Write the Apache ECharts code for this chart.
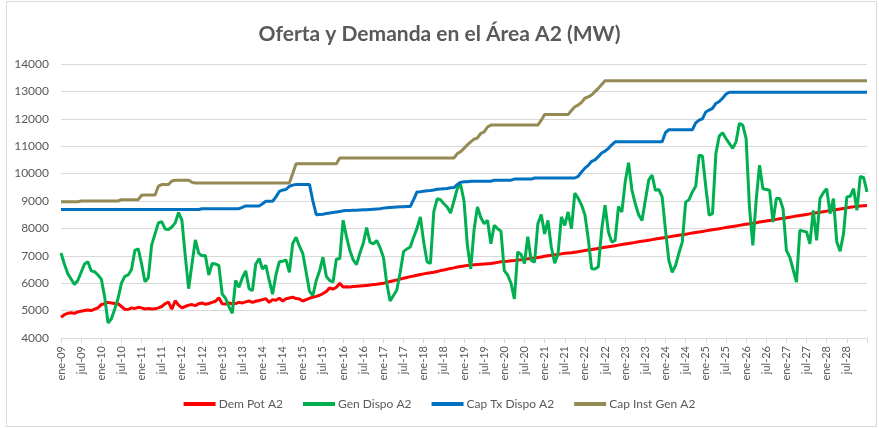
<!DOCTYPE html>
<html>
<head>
<meta charset="utf-8">
<script src="https://cdn.jsdelivr.net/npm/echarts@6/dist/echarts.min.js"></script>
<style>
  html, body { margin: 0; padding: 0; background: #fff; }
  #chart { width: 879px; height: 428px; }
</style>
</head>
<body>
<div id="chart"></div>
<script>
// eje X: meses ene-09 ... ene-29 (solo se rotulan ene/jul)
const meses = ["ene", "feb", "mar", "abr", "may", "jun", "jul", "ago", "sep", "oct", "nov", "dic"];
const categorias = [];
for (let a = 9; a <= 29; a++) {
  for (let m = 0; m < 12; m++) {
    if (categorias.length < 241) categorias.push(meses[m] + "-" + String(a).padStart(2, "0"));
  }
}
categorias[240] = ""; // Excel no rotula el último tick

const yTicks = [4000, 14000, 1000]; // min, max, intervalo

// Dem Pot A2
const demPot = [
  4760, 4850, 4900, 4920, 4900, 4950, 4980, 5000, 5020, 5000, 5050, 5100,
  5220, 5250, 5300, 5280, 5260, 5250, 5150, 5050, 5040, 5100, 5080, 5120,
  5100, 5060, 5080, 5060, 5070, 5100, 5150, 5250, 5310, 5050, 5360, 5200,
  5100, 5150, 5200, 5220, 5180, 5250, 5280, 5230, 5260, 5300, 5340, 5470,
  5250, 5240, 5280, 5250, 5260, 5300, 5280, 5320, 5350, 5300, 5340, 5370,
  5400, 5430, 5300, 5400, 5380, 5450, 5350, 5430, 5460, 5490, 5440, 5420,
  5350, 5400, 5450, 5490, 5520, 5560, 5620, 5700, 5830, 5780, 5850, 6000,
  5860, 5870, 5860, 5880, 5890, 5900, 5910, 5920, 5930, 5950, 5960, 5980,
  6000, 6030, 6060, 6090, 6120, 6150, 6180, 6210, 6240, 6260, 6290, 6320,
  6340, 6360, 6380, 6400, 6430, 6460, 6480, 6510, 6540, 6560, 6590, 6610,
  6630, 6650, 6660, 6670, 6680, 6690, 6700, 6710, 6720, 6740, 6760, 6780,
  6790, 6800, 6820, 6830, 6850, 6860, 6880, 6890, 6910, 6920, 6940, 6960,
  6980, 7000, 7020, 7040, 7050, 7070, 7090, 7100, 7110, 7130, 7150, 7170,
  7190, 7210, 7230, 7250, 7270, 7290, 7310, 7330, 7350, 7370, 7390, 7410,
  7430, 7450, 7470, 7490, 7510, 7530, 7550, 7570, 7590, 7610, 7630, 7650,
  7670, 7690, 7710, 7730, 7750, 7770, 7790, 7810, 7830, 7850, 7870, 7890,
  7910, 7930, 7950, 7970, 7990, 8010, 8030, 8050, 8070, 8090, 8110, 8130,
  8150, 8170, 8190, 8210, 8230, 8250, 8270, 8290, 8310, 8330, 8350, 8370,
  8390, 8410, 8430, 8450, 8470, 8490, 8510, 8530, 8550, 8570, 8590, 8610,
  8630, 8650, 8670, 8690, 8710, 8730, 8750, 8770, 8790, 8800, 8820, 8830,
  8840
];

// Gen Dispo A2
const genDispo = [
  7100, 6700, 6350, 6150, 5950, 6100, 6400, 6700, 6780, 6450, 6420, 6300,
  6150, 5500, 4550, 4700, 5050, 5450, 6000, 6250, 6300, 6500, 7200, 7250,
  6700, 6050, 6200, 7400, 7800, 8200, 8250, 7980, 7960, 8050, 8200, 8580,
  8300, 7000, 5800, 6700, 7580, 7100, 7000, 7010, 6300, 6720, 6700, 6650,
  5600, 5450, 5150, 4900, 6100, 5850, 6200, 6450, 5800, 5730, 6700, 6900,
  6520, 6650, 6100, 5600, 6300, 6780, 6800, 6850, 6400, 7450, 7680, 7350,
  7080, 6400, 5700, 5550, 6100, 6450, 6950, 6250, 6100, 6040, 6880, 6890,
  8300, 7700, 7200, 6850, 6680, 7100, 7450, 8030, 7500, 7430, 7560, 7300,
  6950, 6000, 5350, 5550, 5750, 6400, 7150, 7250, 7320, 7680, 8000, 8420,
  7500, 6780, 6720, 8600, 9080, 9050, 8900, 8780, 8560, 9000, 9450, 9600,
  9000, 7400, 6520, 7950, 8780, 8400, 8170, 8300, 7440, 8110, 7990, 7900,
  6460, 6300, 6000, 5430, 7140, 7050, 6720, 7700, 6830, 6770, 8170, 8510,
  7800, 8290, 7320, 6730, 7070, 8420, 8110, 8600, 7990, 9290, 9100, 8850,
  8500, 7620, 6530, 6520, 6600, 7950, 8850, 7870, 7500, 7560, 8800, 8600,
  9700, 10400, 9400, 8900, 8500, 8290, 9030, 9760, 9950, 9390, 9420, 9150,
  7930, 6830, 6400, 6650, 7100, 7500, 8960, 9050, 9330, 9540, 10670, 10640,
  9510, 8480, 8540, 10730, 11370, 11490, 11280, 11100, 10920, 11160, 11830, 11770,
  11280, 8780, 7380, 9030, 10310, 9450, 9420, 9390, 8230, 9090, 9090, 8720,
  7200, 6950, 6500, 6040, 7930, 7900, 7870, 7440, 8660, 7560, 9090, 9300,
  9450, 8540, 9090, 7500, 7170, 7800, 9150, 9170, 9450, 8660, 9900, 9850,
  9330
];

// Cap Tx Dispo A2
const capTx = [
  8690, 8690, 8690, 8690, 8690, 8690, 8690, 8690, 8690, 8690, 8690, 8690,
  8690, 8690, 8690, 8690, 8690, 8690, 8690, 8690, 8690, 8690, 8690, 8690,
  8690, 8690, 8690, 8690, 8690, 8690, 8690, 8690, 8690, 8690, 8690, 8690,
  8690, 8690, 8690, 8690, 8690, 8690, 8720, 8720, 8720, 8720, 8720, 8720,
  8720, 8720, 8720, 8720, 8720, 8720, 8770, 8820, 8820, 8820, 8820, 8820,
  8900, 8990, 8990, 8990, 9150, 9350, 9400, 9420, 9540, 9580, 9600, 9600,
  9600, 9600, 9600, 9000, 8500, 8510, 8520, 8540, 8560, 8580, 8600, 8620,
  8640, 8650, 8650, 8660, 8660, 8670, 8680, 8680, 8690, 8700, 8710, 8720,
  8740, 8750, 8760, 8770, 8780, 8790, 8790, 8800, 8800, 9050, 9330, 9340,
  9360, 9370, 9380, 9400, 9430, 9440, 9450, 9460, 9480, 9490, 9600, 9680,
  9700, 9700, 9720, 9720, 9720, 9720, 9720, 9720, 9720, 9760, 9760, 9760,
  9760, 9760, 9760, 9800, 9800, 9800, 9800, 9800, 9800, 9840, 9840, 9840,
  9840, 9840, 9840, 9840, 9840, 9840, 9840, 9840, 9840, 9840, 9900, 10060,
  10200, 10300, 10450, 10500, 10620, 10750, 10820, 10920, 11050, 11160, 11160, 11160,
  11160, 11160, 11160, 11160, 11160, 11160, 11160, 11160, 11160, 11160, 11160, 11160,
  11500, 11600, 11600, 11600, 11600, 11600, 11600, 11600, 11600, 11850, 11950, 12000,
  12250, 12320, 12380, 12560, 12630, 12750, 12900, 12970, 12970, 12970, 12970, 12970,
  12970, 12970, 12970, 12970, 12970, 12970, 12970, 12970, 12970, 12970, 12970, 12970,
  12970, 12970, 12970, 12970, 12970, 12970, 12970, 12970, 12970, 12970, 12970, 12970,
  12970, 12970, 12970, 12970, 12970, 12970, 12970, 12970, 12970, 12970, 12970, 12970,
  12970
];

// Cap Inst Gen A2
const capInst = [
  8970, 8970, 8970, 8970, 8970, 8970, 9000, 9000, 9000, 9000, 9000, 9000,
  9000, 9000, 9000, 9000, 9000, 9000, 9050, 9050, 9050, 9050, 9050, 9050,
  9210, 9220, 9220, 9220, 9220, 9540, 9600, 9600, 9600, 9730, 9760, 9760,
  9760, 9760, 9760, 9680, 9660, 9660, 9660, 9660, 9660, 9660, 9660, 9660,
  9660, 9660, 9660, 9660, 9660, 9660, 9660, 9660, 9660, 9660, 9660, 9660,
  9660, 9660, 9660, 9660, 9660, 9660, 9660, 9660, 9660, 10000, 10360, 10360,
  10360, 10360, 10360, 10360, 10360, 10360, 10360, 10360, 10360, 10360, 10360, 10570,
  10570, 10570, 10570, 10570, 10570, 10570, 10570, 10570, 10570, 10570, 10570, 10570,
  10570, 10570, 10570, 10570, 10570, 10570, 10570, 10570, 10570, 10570, 10570, 10570,
  10570, 10570, 10570, 10570, 10570, 10570, 10570, 10570, 10570, 10570, 10730, 10800,
  10920, 11050, 11160, 11260, 11300, 11470, 11520, 11700, 11770, 11770, 11770, 11770,
  11770, 11770, 11770, 11770, 11770, 11770, 11770, 11770, 11770, 11770, 11770, 11950,
  12160, 12160, 12160, 12160, 12160, 12160, 12160, 12160, 12300, 12440, 12500, 12600,
  12750, 12800, 12870, 12990, 13110, 13250, 13390, 13390, 13390, 13390, 13390, 13390,
  13390, 13390, 13390, 13390, 13390, 13390, 13390, 13390, 13390, 13390, 13390, 13390,
  13390, 13390, 13390, 13390, 13390, 13390, 13390, 13390, 13390, 13390, 13390, 13390,
  13390, 13390, 13390, 13390, 13390, 13390, 13390, 13390, 13390, 13390, 13390, 13390,
  13390, 13390, 13390, 13390, 13390, 13390, 13390, 13390, 13390, 13390, 13390, 13390,
  13390, 13390, 13390, 13390, 13390, 13390, 13390, 13390, 13390, 13390, 13390, 13390,
  13390, 13390, 13390, 13390, 13390, 13390, 13390, 13390, 13390, 13390, 13390, 13390,
  13390
];

const nombres = ["Dem Pot A2", "Gen Dispo A2", "Cap Tx Dispo A2", "Cap Inst Gen A2"];
const colores = ["#ff0000", "#00b050", "#0070c0", "#948a54"];
const datos = [demPot, genDispo, capTx, capInst];

const fuente = "Lato, 'Noto Sans', sans-serif";
const gris = "#595959";

const chart = echarts.init(document.getElementById("chart"));

const option = {
  animation: false,
  color: colores,
  textStyle: { fontFamily: fuente },
  title: {
    text: "Oferta y Demanda en el Área A2 (MW)",
    left: "center",
    top: 19,
    textStyle: { fontFamily: fuente, fontSize: 21, fontWeight: "bold", color: gris },
  },
  legend: {
    data: nombres,
    bottom: 13,
    left: "center",
    icon: "rect",
    itemWidth: 32,
    itemHeight: 4,
    itemGap: 20,
    textStyle: { fontFamily: fuente, fontSize: 12, color: gris, padding: [0, 0, 0, -2] },
  },
  grid: {
    left: 61,
    right: 12,
    top: 64,
    bottom: 90,
  },
  xAxis: {
    type: "category",
    boundaryGap: false,
    data: categorias,
    axisLine: { lineStyle: { color: "#d9d9d9", width: 1 } },
    axisTick: { interval: 5, length: 5, lineStyle: { color: "#d9d9d9" } },
    axisLabel: {
      interval: 5,
      rotate: 90,
      margin: 8,
      fontSize: 11,
      fontFamily: fuente,
      color: gris,
    },
  },
  yAxis: {
    type: "value",
    min: yTicks[0],
    max: yTicks[1],
    interval: yTicks[2],
    axisLine: { show: false },
    axisTick: { show: false },
    axisLabel: {
      margin: 12,
      fontSize: 12,
      fontFamily: fuente,
      color: gris,
      formatter: (v) => String(v),
    },
    splitLine: { lineStyle: { color: "#d9d9d9", width: 1 } },
  },
  series: nombres.map((n, i) => ({
    name: n,
    type: "line",
    data: datos[i],
    symbol: "none",
    lineStyle: { width: 3, color: colores[i] },
    itemStyle: { color: colores[i] },
  })),
  graphic: [
    {
      type: "rect",
      shape: { x: 6.5, y: 1.5, width: 870, height: 425 },
      style: { fill: "none", stroke: "#d9d9d9", lineWidth: 1 },
      silent: true,
      z: -1,
    },
  ],
};

chart.setOption(option);
</script>
</body>
</html>
